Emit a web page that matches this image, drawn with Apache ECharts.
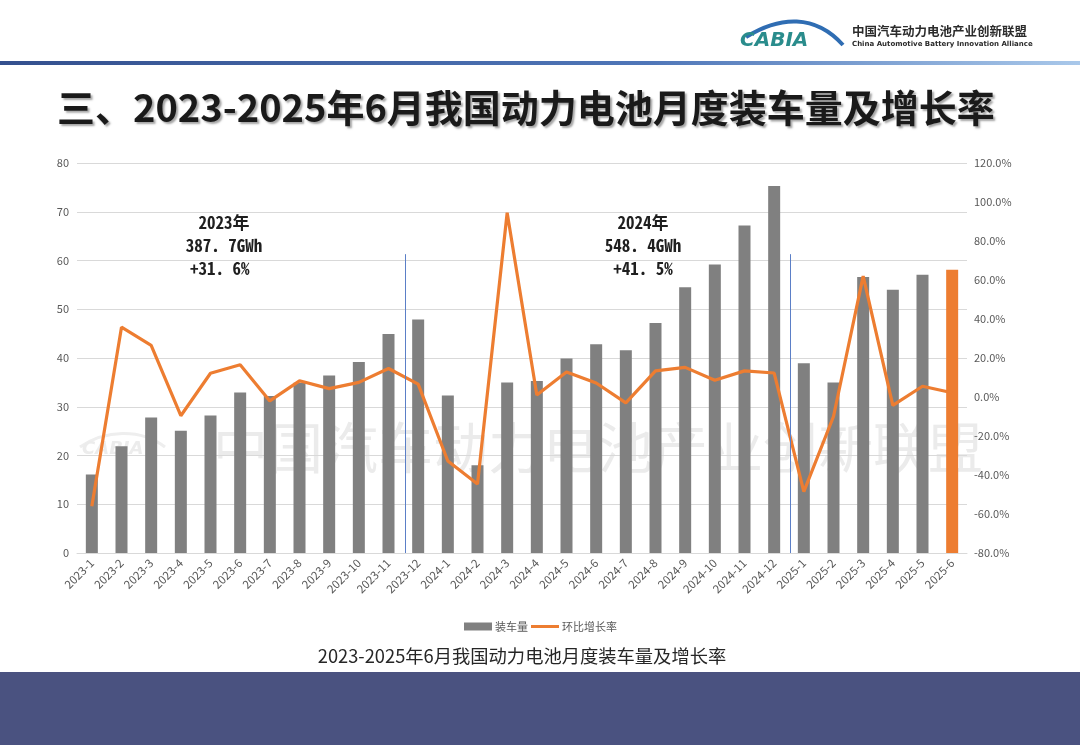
<!DOCTYPE html>
<html>
<head>
<meta charset="utf-8">
<title>2023-2025年6月我国动力电池月度装车量及增长率</title>
<script src="https://cdn.jsdelivr.net/npm/echarts@6/dist/echarts.min.js"></script>
<style>
  html, body { margin: 0; padding: 0; background: #fff; }
  #chart { width: 1080px; height: 745px; }
</style>
</head>
<body>
<div id="chart"></div>
<script>
// 月份
var months = [
  '2023-1','2023-2','2023-3','2023-4','2023-5','2023-6','2023-7','2023-8','2023-9','2023-10','2023-11','2023-12',
  '2024-1','2024-2','2024-3','2024-4','2024-5','2024-6','2024-7','2024-8','2024-9','2024-10','2024-11','2024-12',
  '2025-1','2025-2','2025-3','2025-4','2025-5','2025-6'
];
// 装车量 (GWh)
var volume = [
  16.1, 21.9, 27.8, 25.1, 28.2, 32.9, 32.2, 34.9, 36.4, 39.2, 44.9, 47.9,
  32.3, 18.0, 35.0, 35.3, 39.9, 42.8, 41.6, 47.2, 54.5, 59.2, 67.2, 75.3,
  38.9, 35.0, 56.6, 54.0, 57.1, 58.1
];
// 环比增长率 (%)
var momRate = [
  -56.0, 35.8, 26.5, -9.6, 12.2, 16.5, -2.0, 8.3, 4.3, 7.5, 14.6, 6.6,
  -32.8, -44.6, 94.5, 1.0, 12.8, 7.2, -3.0, 13.4, 15.2, 8.6, 13.4, 12.3,
  -48.5, -10.0, 62.0, -4.3, 5.5, 2.2
];
var highlightMonth = '2025-6';
// 年份分隔线（类目边界）
var dividers = [11.07, 24.05];
var dividerTop = 61.3;

var leftMin = 0, leftMax = 80, leftStep = 10;
var rightMin = -80, rightMax = 120, rightStep = 20;

var yearNotes = [
  { text: '2023年\n387. 7GWh\n+31. 6% ', x: 224, y: 246 },
  { text: '2024年\n548. 4GWh\n+41. 5%', x: 643, y: 246 }
];

var GRAY = '#808080';
var ORANGE = '#ED7D31';
var LABEL = '#595959';
var CJK = "'Noto Sans CJK SC', 'Noto Sans', sans-serif";
var MONO = "'Noto Sans Mono CJK SC', 'DejaVu Sans Mono', 'Noto Sans CJK SC', monospace";

var chart = echarts.init(document.getElementById('chart'), null, { renderer: 'canvas' });

var barData = volume.map(function (v, i) {
  if (months[i] === highlightMonth) {
    return { value: v, itemStyle: { color: ORANGE } };
  }
  return v;
});

var graphics = [
  // 顶部蓝色分隔线
  {
    type: 'rect', z: 10,
    shape: { x: 0, y: 61, width: 1080, height: 4 },
    style: {
      fill: {
        type: 'linear', x: 0, y: 0, x2: 1, y2: 0,
        colorStops: [
          { offset: 0, color: '#34508e' },
          { offset: 0.6, color: '#4f76b8' },
          { offset: 1, color: '#a9c8ea' }
        ]
      }
    }
  },
  // 底部色带
  {
    type: 'rect', z: 10,
    shape: { x: 0, y: 672, width: 1080, height: 73 },
    style: { fill: '#4a5280' }
  },
  // logo 弧线
  {
    type: 'bezierCurve', z: 10,
    shape: { x1: 746, y1: 37, cpx1: 780, cpy1: 16, cpx2: 815, cpy2: 14, x2: 843, y2: 45 },
    style: { stroke: '#2f6db3', lineWidth: 4, fill: null }
  },
  {
    type: 'text', x: 740, y: 31, z: 10,
    style: {
      text: 'CABIA', fill: '#2a8c8c',
      font: 'italic bold 20px "DejaVu Sans", sans-serif'
    }
  },
  {
    type: 'text', x: 852, y: 25, z: 10,
    style: { text: '中国汽车动力电池产业创新联盟', fill: '#2b2b2b', font: 'bold 12.5px ' + CJK }
  },
  {
    type: 'text', x: 852, y: 41, z: 10,
    style: { text: 'China Automotive Battery Innovation Alliance', fill: '#2b2b2b', font: 'bold 7px "DejaVu Sans", sans-serif' }
  },
  // 标题
  {
    type: 'text', x: 57, y: 89, z: 10,
    style: {
      text: '三、2023-2025年6月我国动力电池月度装车量及增长率',
      fill: '#1a1a1a',
      font: 'bold 38px ' + CJK,
      textShadowColor: 'rgba(0,0,0,0.35)',
      textShadowBlur: 2,
      textShadowOffsetX: 2,
      textShadowOffsetY: 2
    }
  },
  // 水印
  {
    type: 'text', x: 213, y: 420, z: -1,
    style: { text: '中国汽车动力电池产业创新联盟', fill: '#ebebeb', font: '55px ' + CJK }
  },
  {
    type: 'bezierCurve', z: -1,
    shape: { x1: 80, y1: 447, cpx1: 105, cpy1: 430, cpx2: 140, cpy2: 428, x2: 165, y2: 447 },
    style: { stroke: '#eeeeee', lineWidth: 3, fill: null }
  },
  {
    type: 'text', x: 82, y: 440, z: -1,
    style: { text: 'CABIA', fill: '#ececec', font: 'italic bold 18px "DejaVu Sans", sans-serif' }
  },
  // 图表标题
  {
    type: 'text', x: 522, y: 656, z: 10,
    style: {
      text: '2023-2025年6月我国动力电池月度装车量及增长率', fill: '#262626',
      font: '18.3px ' + CJK, align: 'center', verticalAlign: 'middle'
    }
  }
];

yearNotes.forEach(function (n) {
  graphics.push({
    type: 'text', z: 20,
    x: n.x, y: n.y,
    style: {
      text: n.text, fill: '#1f1f1f',
      font: 'bold 17px ' + MONO,
      lineHeight: 23,
      align: 'center', verticalAlign: 'middle'
    }
  });
});

var option = {
  backgroundColor: '#ffffff',
  animation: false,
  textStyle: { fontFamily: CJK },
  grid: { left: 77, right: 113, top: 163, bottom: 192, containLabel: false },
  legend: {
    data: [
      { name: '装车量', icon: 'rect' },
      { name: '环比增长率', icon: 'path://M0,0L28,0L28,3L0,3Z' }
    ],
    symbolKeepAspect: true,
    left: 464, top: 621,
    padding: 0,
    itemWidth: 28, itemHeight: 8, itemGap: 3,
    textStyle: { color: LABEL, fontSize: 11, padding: [0, 0, 0, -2] }
  },
  xAxis: [
    {
      type: 'category',
      data: months,
      axisLine: { lineStyle: { color: '#d9d9d9' } },
      axisTick: { show: false },
      axisLabel: { rotate: 45, interval: 0, color: LABEL, fontSize: 11.5, margin: 8 }
    },
    {
      type: 'value', min: 0, max: months.length, show: false
    }
  ],
  yAxis: [
    {
      type: 'value', min: leftMin, max: leftMax, interval: leftStep,
      axisLine: { show: false }, axisTick: { show: false },
      axisLabel: { color: LABEL, fontSize: 11, margin: 8 },
      splitLine: { lineStyle: { color: '#d9d9d9' } }
    },
    {
      type: 'value', min: rightMin, max: rightMax, interval: rightStep,
      axisLine: { show: false }, axisTick: { show: false },
      axisLabel: { color: LABEL, fontSize: 11, margin: 7, formatter: function (v) { return v.toFixed(1) + '%'; } },
      splitLine: { show: false }
    }
  ],
  series: [
    {
      name: '装车量', type: 'bar', data: barData,
      barWidth: 12,
      itemStyle: { color: GRAY },
      z: 2
    },
    {
      name: '环比增长率', type: 'line', data: momRate,
      yAxisIndex: 1,
      symbol: 'none',
      lineStyle: { color: ORANGE, width: 3.2 },
      itemStyle: { color: ORANGE },
      z: 4
    },
    {
      name: 'divider', type: 'scatter', data: [],
      xAxisIndex: 1, yAxisIndex: 0,
      silent: true,
      markLine: {
        silent: true, symbol: 'none',
        label: { show: false },
        lineStyle: { color: '#5b7fc7', width: 1, type: 'solid' },
        data: dividers.map(function (d) {
          return [{ coord: [d, leftMin] }, { coord: [d, dividerTop] }];
        })
      },
      z: 3
    }
  ],
  graphic: graphics
};

chart.setOption(option);
</script>
</body>
</html>
